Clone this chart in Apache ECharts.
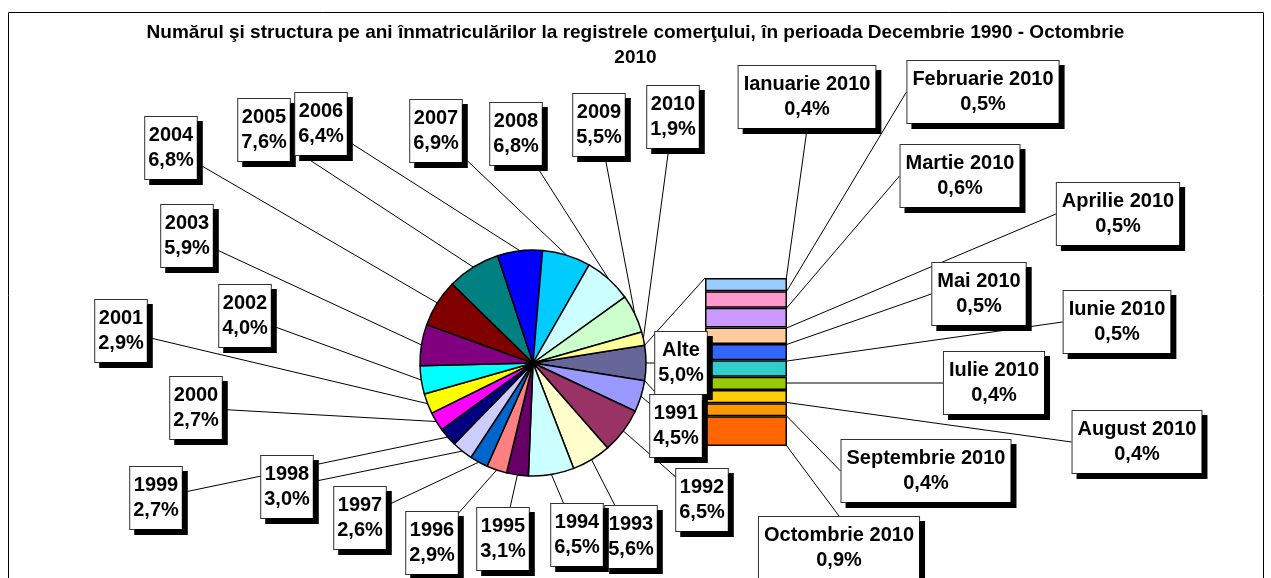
<!DOCTYPE html>
<html>
<head>
<meta charset="utf-8">
<script src="https://cdn.jsdelivr.net/npm/echarts@6/dist/echarts.min.js"></script>
<style>
html, body { margin: 0; padding: 0; background: #fff; }
#chart { width: 1271px; height: 578px; }
</style>
</head>
<body>
<div id="chart"></div>
<script>
// years, clockwise from "Alte" (the slice split out into the bar on the right)
var yearNames = ['Alte', '1991', '1992', '1993', '1994', '1995', '1996', '1997', '1998', '1999',
  '2000', '2001', '2002', '2003', '2004', '2005', '2006', '2007', '2008', '2009', '2010'];
var yearShares = [5.0, 4.5, 6.5, 5.6, 6.5, 3.1, 2.9, 2.6, 3.0, 2.7,
  2.7, 2.9, 4.0, 5.9, 6.8, 7.6, 6.4, 6.9, 6.8, 5.5, 1.9];
var yearColors = ['#666699', '#9999FF', '#993366', '#FFFFCC', '#CCFFFF', '#660066', '#FF8080', '#0066CC', '#CCCCFF', '#000080',
  '#FF00FF', '#FFFF00', '#00FFFF', '#800080', '#800000', '#008080', '#0000FF', '#00CCFF', '#CCFFFF', '#CCFFCC', '#FFFF99'];

// months of 2010, top of the bar first
var monthNames = ['Ianuarie 2010', 'Februarie 2010', 'Martie 2010', 'Aprilie 2010', 'Mai 2010',
  'Iunie 2010', 'Iulie 2010', 'August 2010', 'Septembrie 2010', 'Octombrie 2010'];
var monthShares = [0.4, 0.5, 0.6, 0.5, 0.5, 0.5, 0.4, 0.4, 0.4, 0.9];
var monthColors = ['#99CCFF', '#FF99CC', '#CC99FF', '#FFCC99', '#3366FF',
  '#33CCCC', '#99CC00', '#FFCC00', '#FF9900', '#FF6600'];

// where the label boxes sit (centre, px) - placed by hand like in the excel file
var yearLabelAt = [[681, 363], [676, 426], [702, 500], [631, 537], [577, 535], [503, 539], [432, 543],
  [360, 518], [287, 487], [156, 498], [196, 408], [121, 331], [245, 316], [187, 236], [171, 148],
  [264, 130], [321, 124], [436, 131], [516, 134], [599, 125], [673, 117]];
var monthLabelAt = [[807, 97], [983, 92], [960, 176], [1118, 214], [979, 294],
  [1117, 322], [994, 383], [1137, 442], [926, 471], [839, 548]];

var pieCenter = [533, 363];
var pieR = 113;
var bar = { left: 705, top: 278, width: 82, height: 168 };

function pct(v) {
  return v.toFixed(1).replace('.', ',') + '%';
}

var boxStyle = {
  color: '#000',
  fontFamily: 'Liberation Sans, Arial, sans-serif',
  fontWeight: 'bold',
  fontSize: 20,
  lineHeight: 25,
  backgroundColor: '#fff',
  borderColor: '#333',
  borderWidth: 1,
  shadowColor: '#000',
  shadowOffsetX: 5,
  shadowOffsetY: 5,
  shadowBlur: 0
};

var total = yearShares.reduce(function (a, b) { return a + b; }, 0);
var monthTotal = monthShares.reduce(function (a, b) { return a + b; }, 0);
var halfAlte = 360 * yearShares[0] / total / 2;

var pieData = yearNames.map(function (n, i) {
  return { name: n, value: yearShares[i], itemStyle: { color: yearColors[i] } };
});

var series = [{
  type: 'pie',
  center: pieCenter,
  radius: pieR,
  startAngle: halfAlte,
  clockwise: true,
  avoidLabelOverlap: false,
  animation: false,
  emphasis: { disabled: true },
  itemStyle: { borderColor: '#000', borderWidth: 1.5 },
  label: Object.assign({
    show: true,
    position: 'outside',
    padding: [6, 3],
    formatter: function (p) { return p.name + '\n' + pct(p.value); }
  }, boxStyle),
  labelLine: { show: true, length: 5, length2: 5, lineStyle: { color: '#000', width: 1 } },
  labelLayout: function (p) {
    var c = yearLabelAt[p.dataIndex];
    var start = p.labelLinePoints ? p.labelLinePoints[0] : c;
    return {
      x: c[0], y: c[1], align: 'center', verticalAlign: 'middle',
      labelLinePoints: [start, c]
    };
  },
  data: pieData
}];

function monthLayout(i) {
  return function () {
    var c = monthLabelAt[i];
    return { x: c[0], y: c[1], align: 'center', verticalAlign: 'middle' };
  };
}

// stack starts at the bottom, so push October first
for (var i = monthNames.length - 1; i >= 0; i--) {
  series.push({
    type: 'bar',
    name: monthNames[i],
    stack: 'luni',
    barWidth: '100%',
    animation: false,
    emphasis: { disabled: true },
    itemStyle: { color: monthColors[i], borderColor: '#000', borderWidth: 1.5 },
    label: Object.assign({
      show: true,
      position: 'right',
      padding: [6, 5],
      formatter: function (p) { return p.seriesName + '\n' + pct(p.value); }
    }, boxStyle),
    labelLine: { show: true, length2: 0, lineStyle: { color: '#000', width: 1 } },
    labelLayout: monthLayout(i),
    data: [monthShares[i]]
  });
}

// pie-of-bar connectors from the edges of "Alte" to the bar corners
var a = halfAlte * Math.PI / 180;
var edgeX = pieCenter[0] + pieR * Math.cos(a);
var connectors = [
  [[edgeX, pieCenter[1] - pieR * Math.sin(a)], [bar.left, bar.top]],
  [[edgeX, pieCenter[1] + pieR * Math.sin(a)], [bar.left, bar.top + bar.height]]
];

var chart = echarts.init(document.getElementById('chart'));
chart.setOption({
  backgroundColor: '#fff',
  animation: false,
  title: {
    text: 'Numărul şi structura pe ani înmatriculărilor la registrele comerţului, în perioada Decembrie 1990 - Octombrie\n2010',
    left: 'center',
    top: 15,
    textStyle: {
      fontFamily: 'Liberation Sans, Arial, sans-serif',
      fontWeight: 'bold',
      fontSize: 19,
      lineHeight: 25,
      color: '#000'
    }
  },
  grid: { left: bar.left, top: bar.top, width: bar.width, height: bar.height },
  xAxis: { type: 'category', data: ['luni'], show: false },
  yAxis: { type: 'value', min: 0, max: monthTotal, show: false },
  graphic: [
    {
      type: 'rect', z: 0, silent: true,
      shape: { x: 8.5, y: 12.5, width: 1255, height: 600 },
      style: { fill: null, stroke: '#000', lineWidth: 1 }
    }
  ].concat(connectors.map(function (c) {
    return {
      type: 'line', z: 0, silent: true,
      shape: { x1: c[0][0], y1: c[0][1], x2: c[1][0], y2: c[1][1] },
      style: { stroke: '#000', lineWidth: 1 }
    };
  })),
  series: series
});
</script>
</body>
</html>
